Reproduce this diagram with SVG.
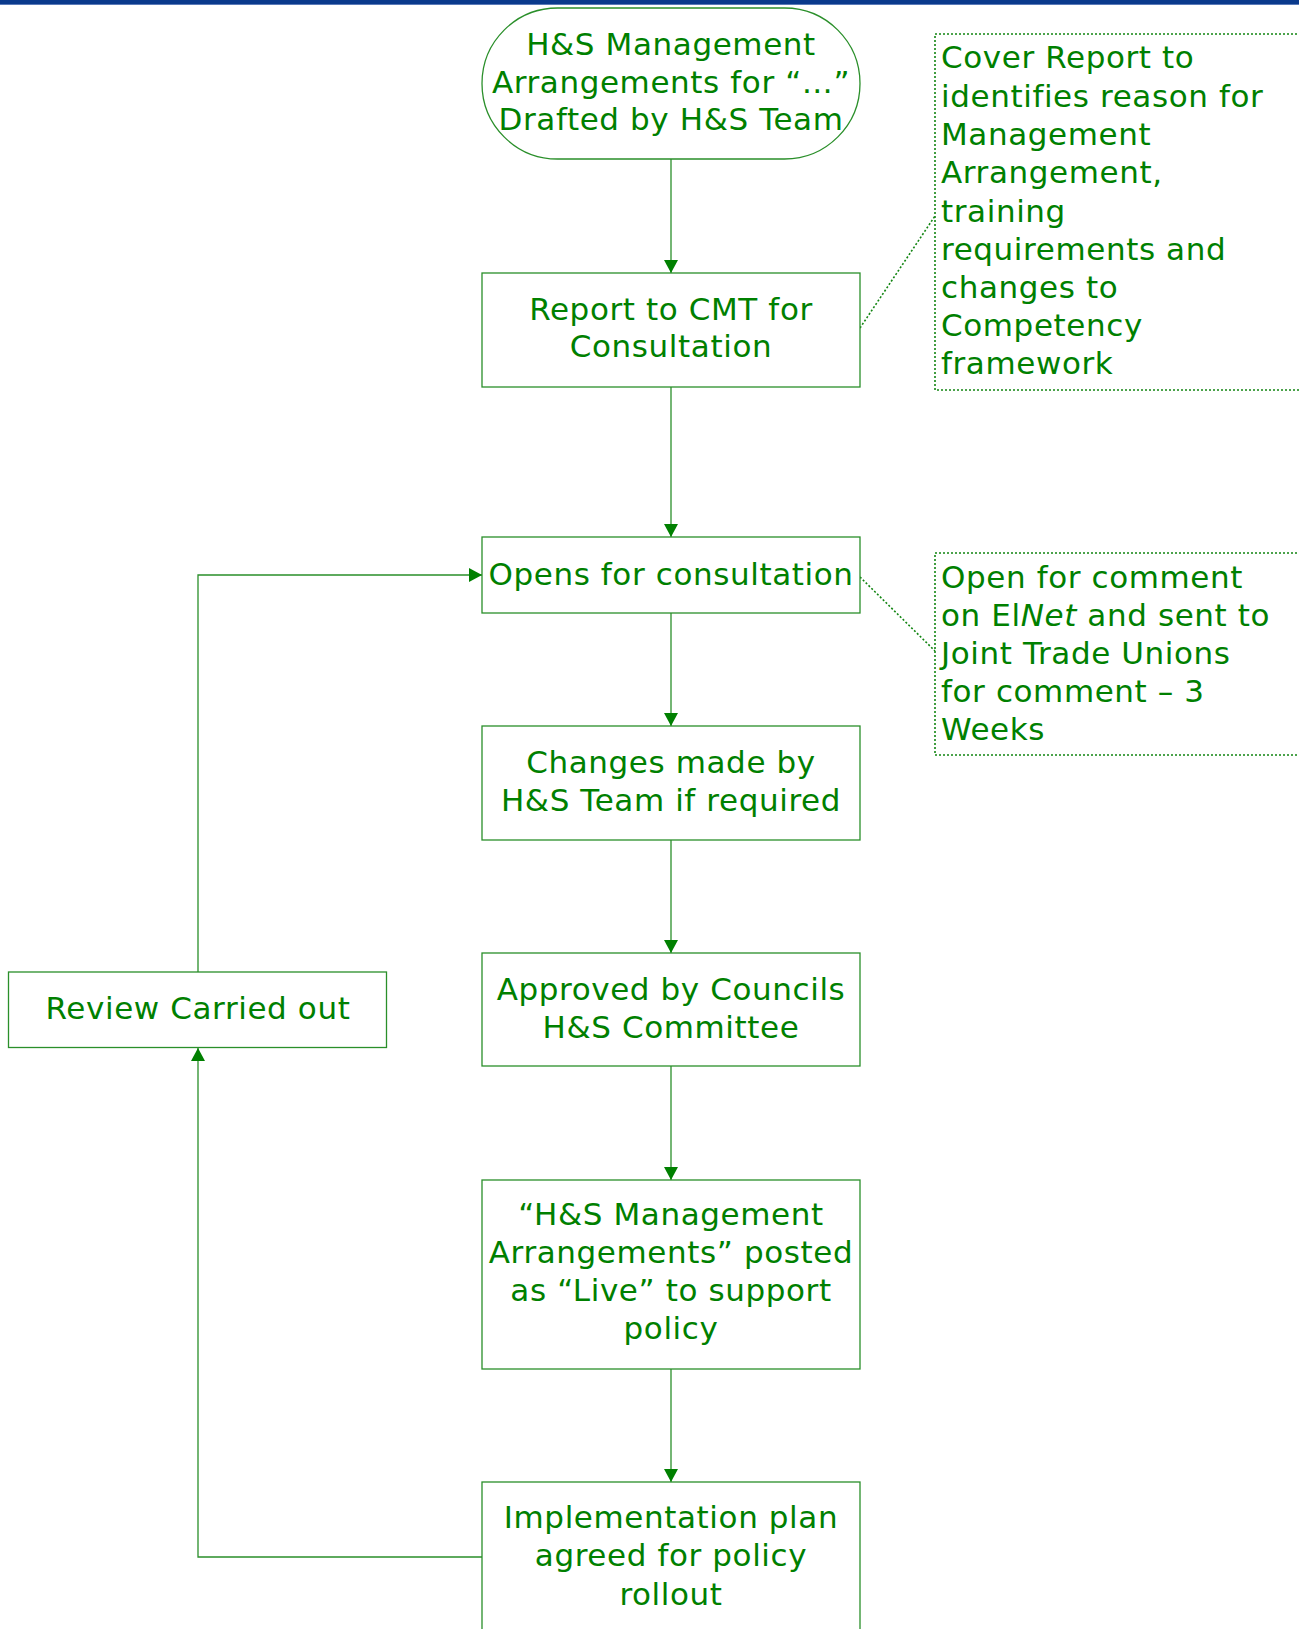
<svg xmlns="http://www.w3.org/2000/svg" width="1299" height="1629" viewBox="0 0 1299 1629">
<style>
.box{fill:#fff;stroke:#2a8f2a;stroke-width:1.3}
.note{fill:none;stroke:#128512;stroke-width:1.6;stroke-dasharray:2 2}
.t{font-family:"DejaVu Sans","Liberation Sans",sans-serif;font-size:31px;letter-spacing:0.6px;fill:#008000}
.c{text-anchor:middle}
.ln{fill:none;stroke:#2a8f2a;stroke-width:1.3}
.dl{fill:none;stroke:#128512;stroke-width:1.6;stroke-dasharray:2 2}
</style>
<defs>
<marker id="ah" markerWidth="14" markerHeight="14" refX="13" refY="7" orient="auto" markerUnits="userSpaceOnUse">
<path d="M0,0 L13,7 L0,14 Z" fill="#008000"/>
</marker>
</defs>
<rect x="0" y="0" width="1299" height="4" fill="#0a3a8c"/>
<rect x="0" y="4" width="1299" height="1" fill="#5a7ab8"/>
<g id="connectors">
<line class="ln" x1="671" y1="159" x2="671" y2="273" marker-end="url(#ah)"/>
<line class="ln" x1="671" y1="387" x2="671" y2="537" marker-end="url(#ah)"/>
<line class="ln" x1="671" y1="613" x2="671" y2="726" marker-end="url(#ah)"/>
<line class="ln" x1="671" y1="840" x2="671" y2="953" marker-end="url(#ah)"/>
<line class="ln" x1="671" y1="1066" x2="671" y2="1180" marker-end="url(#ah)"/>
<line class="ln" x1="671" y1="1369" x2="671" y2="1482" marker-end="url(#ah)"/>
<polyline class="ln" points="482,1557 198,1557 198,1048" marker-end="url(#ah)"/>
<polyline class="ln" points="198,972 198,575 482,575" marker-end="url(#ah)"/>
<line class="dl" x1="860" y1="328" x2="935" y2="216"/>
<line class="dl" x1="860" y1="577" x2="935" y2="651"/>
</g>
<g id="n1">
<rect class="box" x="482" y="8" width="378" height="151" rx="75.5"/>
<text class="t c" x="671" y="55">H&amp;S Management</text>
<text class="t c" x="671" y="93">Arrangements for “…”</text>
<text class="t c" x="671" y="130">Drafted by H&amp;S Team</text>
</g>
<g id="n2">
<rect class="box" x="482" y="273" width="378" height="114"/>
<text class="t c" x="671" y="320">Report to CMT for</text>
<text class="t c" x="671" y="357">Consultation</text>
</g>
<g id="n3">
<rect class="box" x="482" y="537" width="378" height="76"/>
<text class="t c" x="671" y="585">Opens for consultation</text>
</g>
<g id="n4">
<rect class="box" x="482" y="726" width="378" height="114"/>
<text class="t c" x="671" y="773">Changes made by</text>
<text class="t c" x="671" y="811">H&amp;S Team if required</text>
</g>
<g id="n5">
<rect class="box" x="482" y="953" width="378" height="113"/>
<text class="t c" x="671" y="1000">Approved by Councils</text>
<text class="t c" x="671" y="1038">H&amp;S Committee</text>
</g>
<g id="n6">
<rect class="box" x="482" y="1180" width="378" height="189"/>
<text class="t c" x="671" y="1225">“H&amp;S Management</text>
<text class="t c" x="671" y="1263">Arrangements” posted</text>
<text class="t c" x="671" y="1301">as “Live” to support</text>
<text class="t c" x="671" y="1339">policy</text>
</g>
<g id="n7">
<rect class="box" x="482" y="1482" width="378" height="160"/>
<text class="t c" x="671" y="1528">Implementation plan</text>
<text class="t c" x="671" y="1566">agreed for policy</text>
<text class="t c" x="671" y="1605">rollout</text>
</g>
<g id="n8">
<rect class="box" x="8.5" y="972" width="378" height="75.5"/>
<text class="t c" x="198" y="1019">Review Carried out</text>
</g>
<g id="note1">
<rect class="note" x="935" y="34" width="380" height="356"/>
<text class="t" x="941" y="68">Cover Report to</text>
<text class="t" x="941" y="107">identifies reason for</text>
<text class="t" x="941" y="145">Management</text>
<text class="t" x="941" y="183">Arrangement,</text>
<text class="t" x="941" y="222">training</text>
<text class="t" x="941" y="260">requirements and</text>
<text class="t" x="941" y="298">changes to</text>
<text class="t" x="941" y="336">Competency</text>
<text class="t" x="941" y="374">framework</text>
</g>
<g id="note2">
<rect class="note" x="935" y="553" width="380" height="202"/>
<text class="t" x="941" y="588">Open for comment</text>
<text class="t" x="941" y="626">on El<tspan font-style="italic">Net</tspan> and sent to</text>
<text class="t" x="941" y="664">Joint Trade Unions</text>
<text class="t" x="941" y="702">for comment – 3</text>
<text class="t" x="941" y="740">Weeks</text>
</g>
</svg>
